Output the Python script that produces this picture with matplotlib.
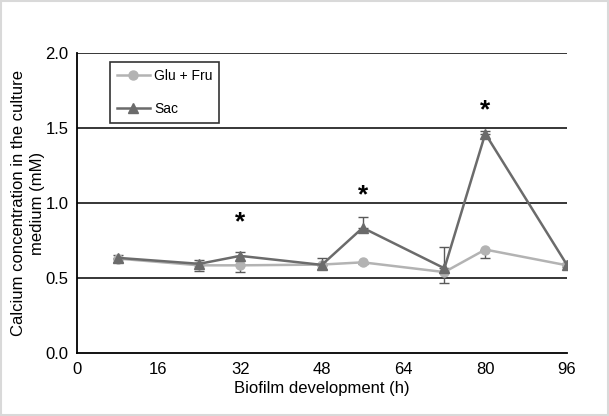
import numpy as np
import matplotlib.pyplot as plt

plt.rcParams['font.family'] = ['Liberation Sans', 'DejaVu Sans']

# data
hours = [8, 24, 32, 48, 56, 72, 80, 96]
glu_fru = [0.63, 0.585, 0.585, 0.59, 0.605, 0.54, 0.69, 0.585]
glu_fru_err = [0.02, 0.04, 0.045, 0.03, 0.01, 0.07, 0.055, 0.01]   # shown below the point
sac = [0.635, 0.595, 0.648, 0.588, 0.835, 0.565, 1.462, 0.588]
sac_err = [0.02, 0.025, 0.025, 0.045, 0.07, 0.145, 0.02, 0.01]     # shown above the point
sig_hours = [32, 56, 80]
sig_y = [0.87, 1.05, 1.62]

zeros = [0] * len(hours)

fig = plt.figure(figsize=(6.09, 4.16), dpi=100)
fig.patches.append(plt.Rectangle((0.002, 0.002), 0.996, 0.996, transform=fig.transFigure,
                                 fill=False, edgecolor='#d9d9d9', linewidth=1.5))
ax = fig.add_axes([0.126, 0.151, 0.805, 0.722])

# gridlines
for yv in [0.5, 1.0, 1.5, 2.0]:
    ax.axhline(yv, color='#262626', linewidth=1.3, zorder=1)

ax.errorbar(hours, glu_fru, yerr=[glu_fru_err, zeros], fmt='none', ecolor='#595959',
            elinewidth=1, capsize=3.5, zorder=2)
ax.plot(hours, glu_fru, color='#b3b3b3', marker='o', markersize=6.5, linewidth=1.8,
        label='Glu + Fru', zorder=3)
ax.errorbar(hours, sac, yerr=[zeros, sac_err], fmt='none', ecolor='#595959',
            elinewidth=1, capsize=3.5, zorder=2)
ax.plot(hours, sac, color='#6b6b6b', marker='^', markersize=6.5, linewidth=1.8,
        label='Sac', zorder=4)

for h, y in zip(sig_hours, sig_y):
    ax.text(h, y, '*', ha='center', va='center', fontsize=19, fontweight='bold')

ax.set_xlim(0, 96)
ax.set_ylim(0, 2.0)
ax.set_xticks(np.arange(0, 97, 16))
ax.set_yticks(np.arange(0, 2.01, 0.5))
ax.set_yticklabels(['0.0', '0.5', '1.0', '1.5', '2.0'])
ax.tick_params(length=0, labelsize=12, pad=6)
ax.spines['right'].set_visible(False)
ax.spines['top'].set_visible(False)
ax.spines['left'].set_linewidth(1.3)
ax.spines['bottom'].set_linewidth(1.3)
ax.set_xlabel('Biofilm development (h)', fontsize=12, labelpad=3)
ax.set_ylabel('Calcium concentration in the culture\nmedium (mM)', fontsize=12, labelpad=0,
              linespacing=1.35)

leg = ax.legend(loc='upper left', bbox_to_anchor=(0.067, 0.97), fontsize=10, frameon=True,
                fancybox=False, edgecolor='black', handlelength=2.4, borderpad=0.5,
                labelspacing=1.4, handletextpad=0.3, borderaxespad=0)
leg.get_frame().set_linewidth(1.2)

fig.savefig('out.png', dpi=100)
